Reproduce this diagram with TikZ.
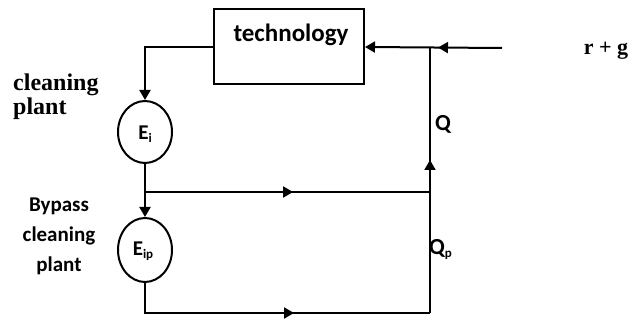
\documentclass[tikz,border=0pt]{standalone}
\usepackage{fontspec}
\setmainfont{Carlito}
\newfontfamily\serifb{Liberation Serif}
\usetikzlibrary{arrows.meta,shapes.geometric,decorations.markings}
\newcommand{\lowsub}[1]{{\fontsize{13}{13}\selectfont\raisebox{-3pt}{#1}}}
\begin{document}
\begin{tikzpicture}[x=1pt,y=-1pt,
  line/.style={line width=2pt, draw=black},
  tip/.style={-{Triangle[length=10pt,width=11pt]}},
  midarrow/.style={postaction={decorate},decoration={markings,mark=at position #1 with {\arrow{Triangle[length=10pt,width=11pt]}}}},
  box/.style={draw, line width=2pt, minimum width=150pt, minimum height=75pt, inner sep=0pt},
  oval/.style={draw, ellipse, line width=2pt, minimum width=54pt, minimum height=62pt, inner sep=0pt},
  lbl/.style={font=\bfseries\fontsize{21}{30}\selectfont, inner sep=0pt},
  slbl/.style={font=\serifb\bfseries\fontsize{24}{24}\selectfont, inner sep=0pt}
]
\useasboundingbox (0,0) rectangle (630,320);
\node[box] (tech) at (289,47) {};
\node[lbl, font=\bfseries\fontsize{25}{25}\selectfont] (techtxt) at (291,35) {technology};
\node[oval] (Ei) at (145,132) {};
\node[oval, minimum height=64pt] (Eip) at (145,250) {};
\node[lbl] (Eitxt) at (145,134) {E\lowsub{i}};
\node[lbl] (Eiptxt) at (143,251) {E\lowsub{ip}};
\coordinate (j1) at (145,192);
\coordinate (j2) at (430,192);
\coordinate (b2) at (430,313);
\coordinate (t1) at (430,48);
\coordinate (in) at (502,48);
% connectors
\draw[line, tip] (tech.west) -| (Ei.north);
\draw[line, tip] (Ei.south) -- (Eip.north);
\draw[line, midarrow=148pt] (j1) -- (j2);
\draw[line, midarrow=179pt] (Eip.south) |- (b2);
\draw[line, midarrow=153pt] (b2) -- (t1);
\draw[line, tip, midarrow=64pt] (in) -- (tech.east);
% labels
\node[slbl, align=left, anchor=north west] (clean) at (13,74) {cleaning\\plant};
\node[lbl, align=center] (bypass) at (59,236) {Bypass\\cleaning\\plant};
\node[lbl, font=\bfseries\fontsize{23}{23}\selectfont, anchor=west] (Q) at (435,124) {Q};
\node[lbl, font=\bfseries\fontsize{23}{23}\selectfont, anchor=west] (Qp) at (429,249) {Q\lowsub{p}};
\node[slbl, font=\serifb\bfseries\fontsize{22}{22}\selectfont] (rg) at (606,51) {r + g};
\end{tikzpicture}
\end{document}
